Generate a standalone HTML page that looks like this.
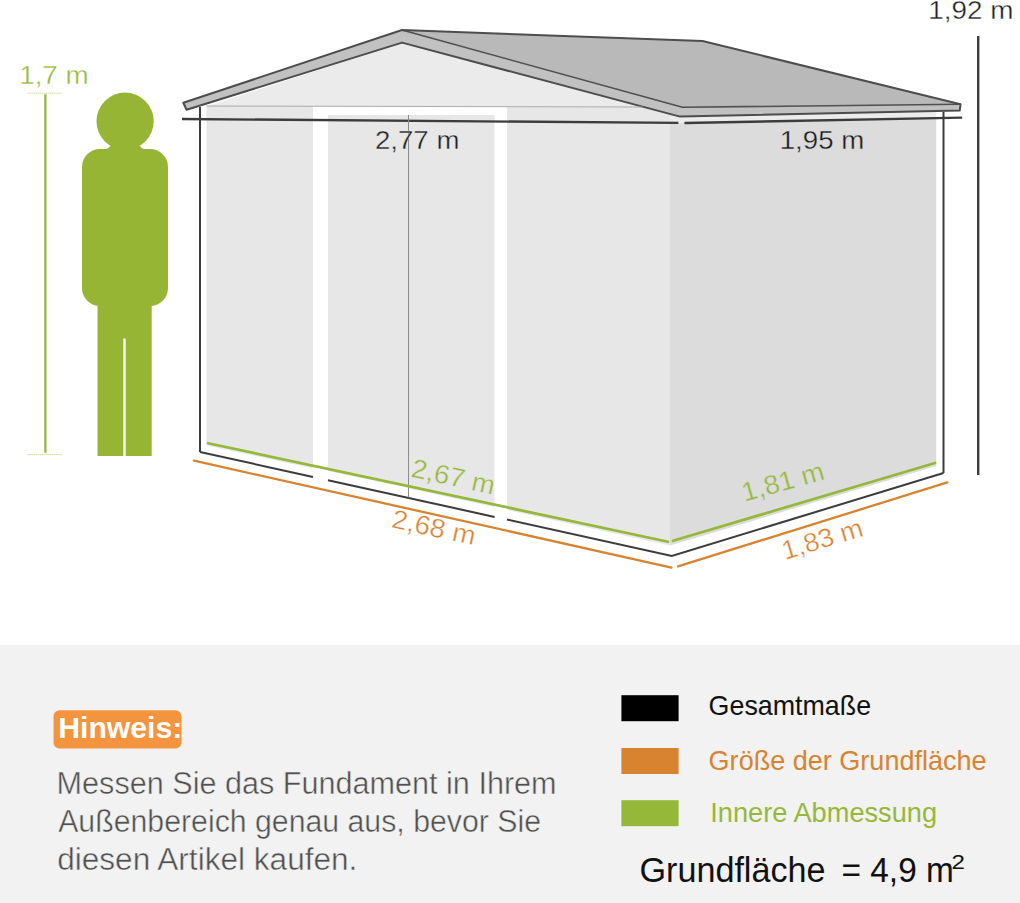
<!DOCTYPE html>
<html lang="de">
<head>
<meta charset="utf-8">
<title>Gerätehaus Maße</title>
<style>
  html, body { margin: 0; padding: 0; background: #ffffff; }
  body { width: 1020px; height: 903px; overflow: hidden; position: relative;
         font-family: "Liberation Sans", sans-serif; }
  svg { position: absolute; left: 0; top: 0; display: block; }
  text { font-family: "Liberation Sans", sans-serif; }
</style>
</head>
<body>
<svg width="1020" height="903" viewBox="0 0 1020 903">
  <!-- ===== bottom info panel ===== -->
  <rect x="0" y="645" width="1020" height="258" fill="#f2f2f2"/>

  <!-- ===== shed walls ===== -->
  <g id="walls">
    <!-- gable (light) -->
    <polygon points="206.5,106.4 402,43 646,107.4" fill="#ebebeb"/>
    <!-- left panel -->
    <polygon points="206.5,106 313,106 313,468.5 206.5,445.6" fill="#e7e7e7"/>
    <!-- door panel -->
    <polygon points="328,115 494.5,115 494.5,507 408.5,488.5 408.5,488 328,471" fill="#e7e7e7"/>
    <!-- right front panel -->
    <polygon points="507,107 670,107 670,545.5 507,510" fill="#e7e7e7"/>
    <!-- side wall -->
    <polygon points="670,112 936.3,108 936.3,119 670,124" fill="#ececec"/>
    <polygon points="670,123.4 936.3,118.4 936.3,466 670,545.5" fill="#dcdcdc"/>
  </g>

  <!-- ===== roof ===== -->
  <g id="roof" stroke-linejoin="round">
    <polygon points="402,30 702.5,41 960.5,104.3 682.4,107.3" fill="#b9b9b9"/>
    <polygon points="183.3,102.8 402,30 682.4,107.3 960.5,104.3 959.7,110.5 680,116.6 402,42.6 186.6,109.7" fill="#c1c1c1"/>
    <polyline points="402,30 682.4,107.3 960.5,104.3" fill="none" stroke="#505050" stroke-width="1.6"/>
    <polygon points="186.6,109.7 183.3,102.8 402,30 702.5,41 960.5,104.3 959.7,110.5 680,116.6 402,42.6" fill="none" stroke="#4d4d4d" stroke-width="2"/>
  </g>

  <!-- ===== black outline / dimension lines ===== -->
  <g id="black" stroke="#3c3c3c" stroke-width="2" fill="none" stroke-linecap="butt">
    <line x1="200" y1="107" x2="200" y2="452"/>
    <line x1="943.5" y1="112" x2="943.5" y2="473"/>
    <line x1="182" y1="119" x2="678.4" y2="122.9" stroke-width="2.4"/>
    <line x1="684.4" y1="123" x2="962.2" y2="117.6" stroke-width="2.4"/>
    <line x1="978.2" y1="36" x2="978.2" y2="475" stroke-width="2.4"/>
    <polyline points="200,452 313,476.9"/>
    <polyline points="328,480.2 494.6,516.9"/>
    <polyline points="507,519.6 671.8,555.9 943.5,473"/>
  </g>
  <line x1="408.5" y1="115" x2="408.5" y2="497.5" stroke="#8c8c8c" stroke-width="1"/>
  <line x1="206.5" y1="106" x2="643" y2="107" stroke="#9a9a9a" stroke-width="0.8"/>

  <!-- ===== green inner lines ===== -->
  <g stroke="#96b83a" stroke-width="2.7" fill="none" stroke-linecap="round">
    <line x1="208" y1="443.2" x2="668" y2="541.8"/>
    <line x1="673" y1="540.8" x2="935" y2="463"/>
  </g>
  <!-- ===== orange base lines ===== -->
  <g stroke="#d8832f" stroke-width="2.3" fill="none" stroke-linecap="round">
    <line x1="194" y1="460.7" x2="671.5" y2="567.6"/>
    <line x1="678" y1="566.4" x2="947.3" y2="482.4"/>
  </g>

  <!-- ===== person ===== -->
  <g id="person" fill="#96b535">
    <circle cx="125.1" cy="121.2" r="28.6"/>
    <rect x="82" y="149" width="86" height="157" rx="18" ry="18"/>
    <rect x="97.5" y="280" width="54.2" height="176"/>
    <path d="M 101,150 Q 110.5,149.6 111.6,143 L 138.6,143 Q 139.7,149.6 149.2,150 L 149.2,156 L 101,156 Z"/>
  </g>
  <line x1="124.5" y1="338.5" x2="124.5" y2="456" stroke="#fbfbf4" stroke-width="2.4"/>
  <line x1="45.4" y1="94.3" x2="45.4" y2="452.7" stroke="#96b535" stroke-width="2.2"/>
  <line x1="27.7" y1="93.2" x2="62" y2="93.2" stroke="#b9cf77" stroke-width="1" stroke-dasharray="1 1"/>
  <line x1="27.7" y1="454.5" x2="62" y2="454.5" stroke="#b9cf77" stroke-width="1" stroke-dasharray="1 1"/>

  <!-- ===== dimension labels ===== -->
  <g font-size="26.6" fill="#1e1e1e">
    <text x="928.3" y="18.6" stroke="#ffffff" stroke-width="0.36" textLength="85.2" lengthAdjust="spacingAndGlyphs">1,92 m</text>
    <text x="375" y="148.8" stroke="#e7e7e7" stroke-width="0.36" textLength="84.4" lengthAdjust="spacingAndGlyphs">2,77 m</text>
    <text x="779.7" y="149.2" stroke="#dcdcdc" stroke-width="0.36" textLength="84.6" lengthAdjust="spacingAndGlyphs">1,95 m</text>
  </g>
  <text x="19.2" y="83.8" font-size="26.6" fill="#96b83a" stroke="#ffffff" stroke-width="0.36" textLength="69.5" lengthAdjust="spacingAndGlyphs">1,7 m</text>
  <text transform="translate(409.9,476.5) rotate(12.4)" font-size="26.6" fill="#96b83a" stroke="#e7e7e7" stroke-width="0.36" textLength="85" lengthAdjust="spacingAndGlyphs">2,67 m</text>
  <text transform="translate(390.6,527.3) rotate(12.2)" font-size="26.6" fill="#d8832f" stroke="#ffffff" stroke-width="0.36" textLength="85" lengthAdjust="spacingAndGlyphs">2,68 m</text>
  <text transform="translate(744.6,501.8) rotate(-15.6)" font-size="26.6" fill="#96b83a" stroke="#dcdcdc" stroke-width="0.36" textLength="84.4" lengthAdjust="spacingAndGlyphs">1,81 m</text>
  <text transform="translate(784.9,559.9) rotate(-16.9)" font-size="26.6" fill="#d8832f" stroke="#ffffff" stroke-width="0.36" textLength="83.5" lengthAdjust="spacingAndGlyphs">1,83 m</text>

  <!-- ===== note ===== -->
  <rect x="53.5" y="710.3" width="128" height="38.2" rx="6" ry="6" fill="#f5943f"/>
  <text x="58.3" y="738" font-size="30" font-weight="bold" fill="#ffffff" textLength="124" lengthAdjust="spacingAndGlyphs">Hinweis:</text>
  <g font-size="30.8" fill="#505050" stroke="#f2f2f2" stroke-width="0.45">
    <text x="56.6" y="793.9" textLength="500" lengthAdjust="spacingAndGlyphs">Messen Sie das Fundament in Ihrem</text>
    <text x="58.2" y="831.7" textLength="482.8" lengthAdjust="spacingAndGlyphs">Außenbereich genau aus, bevor Sie</text>
    <text x="57.2" y="870.4" textLength="300.2" lengthAdjust="spacingAndGlyphs">diesen Artikel kaufen.</text>
  </g>

  <!-- ===== legend ===== -->
  <rect x="621.4" y="695.2" width="57.2" height="26" fill="#000000"/>
  <rect x="621.4" y="748" width="57.2" height="26" fill="#d8832f"/>
  <rect x="621.4" y="800.2" width="57.2" height="26" fill="#96b83a"/>
  <text x="708.6" y="715" font-size="27.2" fill="#111111" textLength="162.5" lengthAdjust="spacingAndGlyphs">Gesamtmaße</text>
  <text x="708.6" y="769.8" font-size="27.2" fill="#d8832f" textLength="278" lengthAdjust="spacingAndGlyphs">Größe der Grundfläche</text>
  <text x="710.3" y="822" font-size="27.2" fill="#96b83a" textLength="226.8" lengthAdjust="spacingAndGlyphs">Innere Abmessung</text>
  <g font-size="34.4" fill="#111111">
    <text x="639.5" y="881.8" textLength="186" lengthAdjust="spacingAndGlyphs">Grundfläche</text>
    <text x="841.5" y="881.8" textLength="112.3" lengthAdjust="spacingAndGlyphs">= 4,9 m</text>
    <text x="951.6" y="868.6" font-size="19.5" textLength="13.4" lengthAdjust="spacingAndGlyphs">2</text>
  </g>
</svg>
</body>
</html>
